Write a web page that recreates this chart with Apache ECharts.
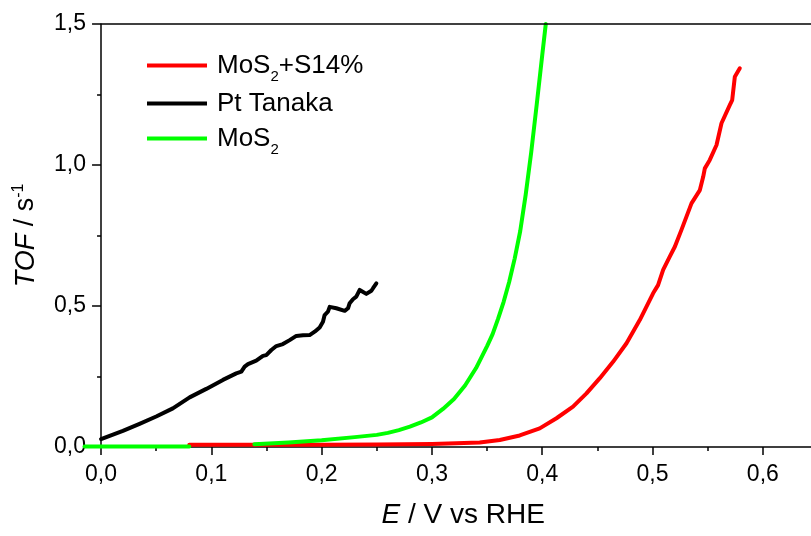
<!DOCTYPE html>
<html>
<head>
<meta charset="utf-8">
<script src="https://cdn.jsdelivr.net/npm/echarts@6/dist/echarts.min.js"></script>
<style>
  html, body { margin: 0; padding: 0; background: #fff; }
  #chart { width: 811px; height: 536px; }
</style>
</head>
<body>
<div id="chart"></div>
<script>
const FONT = '"Liberation Sans", Arial, Helvetica, sans-serif';

// Series names, in legend order
const seriesNames = ['MoS2+S14%', 'Pt Tanaka', 'MoS2'];
const seriesColors = ['#ff0000', '#000000', '#00ff00'];

// MoS2+S14% : potential (V vs RHE) and TOF (s^-1)
const redE = [0.080, 0.140, 0.200, 0.250, 0.300, 0.3220, 0.3433, 0.3615, 0.3796, 0.3977, 0.4129,
              0.4279, 0.4401, 0.4522, 0.4642, 0.4764, 0.4884, 0.5005, 0.5050, 0.5096, 0.5156,
              0.5202, 0.5262, 0.5353, 0.5429, 0.5459, 0.5474, 0.5519, 0.5580, 0.5625, 0.5701,
              0.5722, 0.5746, 0.5791];
const redTOF = [0.008, 0.008, 0.008, 0.009, 0.011, 0.013, 0.016, 0.025, 0.041, 0.066, 0.102,
                0.143, 0.190, 0.244, 0.302, 0.368, 0.450, 0.545, 0.574, 0.628, 0.675,
                0.710, 0.770, 0.864, 0.911, 0.958, 0.988, 1.018, 1.071, 1.148, 1.213,
                1.230, 1.313, 1.343];

// Pt Tanaka
const blackE = [0.000, 0.0198, 0.0349, 0.050, 0.0651, 0.0803, 0.0954, 0.1105, 0.1226, 0.1272,
                0.1302, 0.1332, 0.1407, 0.1468, 0.1498, 0.1544, 0.1589, 0.1649, 0.1710, 0.1770,
                0.1831, 0.1891, 0.1937, 0.1982, 0.2012, 0.2027, 0.2057, 0.2073, 0.2133, 0.2209,
                0.2239, 0.2254, 0.2284, 0.2314, 0.2345, 0.2405, 0.2451, 0.2466, 0.2496];
const blackTOF = [0.028, 0.057, 0.082, 0.108, 0.137, 0.176, 0.206, 0.238, 0.261, 0.267,
                  0.285, 0.294, 0.306, 0.323, 0.326, 0.344, 0.358, 0.365, 0.379, 0.394,
                  0.396, 0.397, 0.409, 0.424, 0.444, 0.468, 0.480, 0.497, 0.492, 0.483,
                  0.492, 0.510, 0.524, 0.533, 0.557, 0.543, 0.554, 0.563, 0.580];

// MoS2 (no data recorded between 0.08 and 0.139 V)
const greenE = [-0.015, 0.000, 0.040, 0.080, 0.110, 0.139, 0.170, 0.200, 0.230, 0.250,
                0.260, 0.270, 0.280, 0.290, 0.300, 0.310, 0.320, 0.330, 0.340, 0.350,
                0.355, 0.360, 0.365, 0.370, 0.375, 0.380, 0.385, 0.390, 0.395, 0.400, 0.4032];
const greenTOF = [0.002, 0.002, 0.002, 0.002, '-', 0.010, 0.016, 0.024, 0.035, 0.043,
                  0.050, 0.060, 0.072, 0.087, 0.105, 0.135, 0.170, 0.218, 0.280, 0.358,
                  0.400, 0.455, 0.515, 0.585, 0.668, 0.765, 0.895, 1.045, 1.215, 1.390, 1.500];

// Axis ticks
const xMajorTicks = [0, 0.1, 0.2, 0.3, 0.4, 0.5, 0.6];
const xMinorTicks = [0.05, 0.15, 0.25, 0.35, 0.45, 0.55];
const xMin = -0.015, xMax = 0.65;
const yMin = 0, yMax = 1.5, yStep = 0.5;

const pairs = (xs, ys) => xs.map((x, i) => [x, ys[i]]);
const fmt = v => Number(v).toFixed(1).replace('.', ',');

const seriesData = [pairs(redE, redTOF), pairs(blackE, blackTOF), pairs(greenE, greenTOF)];

const legendTops = [51.5, 89.5, 124.5];

// plot area geometry
const gridLeft = 84.5, gridRight = -7, W = 811;
const pxPerV = (W - gridRight - gridLeft) / (xMax - xMin);
// shift of the vertical axis from the plot's left edge to E = 0
const yAxisShift = (0 - xMin) * pxPerV;

const chart = echarts.init(document.getElementById('chart'), null, { renderer: 'canvas' });

const legendRich = {
  sub: { fontFamily: FONT, fontSize: 15, lineHeight: 15, color: '#000',
         verticalAlign: 'top', padding: [18, 0, 0, 0] }
};

const axisBlack = { color: '#000', width: 1.5 };

chart.setOption({
  animation: false,
  backgroundColor: '#fff',
  grid: { left: gridLeft, right: gridRight, top: 24, bottom: 89, show: false,
          outerBoundsMode: 'none', containLabel: false },
  legend: seriesNames.map((n, i) => ({
    data: [n],
    left: 147,
    top: legendTops[i],
    orient: 'vertical',
    padding: 0,
    itemGap: 0,
    itemWidth: 60,
    itemHeight: 4,
    icon: 'rect',
    selectedMode: false,
    formatter: name => name.replace('MoS2', 'MoS{sub|2}'),
    textStyle: {
      fontFamily: FONT, fontSize: 26, lineHeight: 28, color: '#000',
      padding: [0, 0, 0, 5],
      rich: legendRich
    }
  })),
  xAxis: [{
    type: 'value',
    min: xMin, max: xMax,
    position: 'bottom',
    name: '{i|E} / V vs RHE',
    nameLocation: 'middle',
    nameGap: 54,
    nameTextStyle: {
      fontFamily: FONT, fontSize: 28, color: '#000',
      padding: [0, 0, 0, 24],
      rich: {
        i: { fontFamily: FONT, fontSize: 28, fontStyle: 'italic', color: '#000' }
      }
    },
    axisLine: { show: true, onZero: false, lineStyle: axisBlack },
    axisTick: { show: true, inside: false, length: 8, customValues: xMajorTicks, lineStyle: axisBlack },
    axisLabel: { customValues: xMajorTicks, formatter: fmt, margin: 16,
                 fontFamily: FONT, fontSize: 23, color: '#000' },
    splitLine: { show: false }
  }, {
    type: 'value',
    min: xMin, max: xMax,
    position: 'bottom',
    axisLine: { show: false, onZero: false },
    axisTick: { show: true, inside: false, length: 4, customValues: xMinorTicks, lineStyle: axisBlack },
    axisLabel: { show: false },
    splitLine: { show: false }
  }],
  yAxis: {
    type: 'value',
    min: yMin, max: yMax, interval: yStep,
    position: 'left',
    offset: -yAxisShift,
    name: '{i|TOF} / s{sup|-1}',
    nameLocation: 'middle',
    nameGap: 60,
    nameRotate: 90,
    nameTextStyle: {
      fontFamily: FONT, fontSize: 27, color: '#000', lineHeight: 30,
      rich: {
        i: { fontFamily: FONT, fontSize: 27, fontStyle: 'italic', color: '#000', lineHeight: 30 },
        sup: { fontFamily: FONT, fontSize: 16, color: '#000', lineHeight: 16, verticalAlign: 'top' }
      }
    },
    axisLine: { show: true, onZero: false, lineStyle: axisBlack },
    axisTick: { show: true, inside: false, length: 9, lineStyle: axisBlack },
    minorTick: { show: true, splitNumber: 2, length: 4, lineStyle: axisBlack },
    axisLabel: { formatter: fmt, margin: 15, fontFamily: FONT, fontSize: 23, color: '#000' },
    splitLine: { show: false },
    minorSplitLine: { show: false }
  },
  series: seriesNames.map((n, i) => ({
    name: n,
    type: 'line',
    xAxisIndex: 0,
    data: seriesData[i],
    symbol: 'none',
    showSymbol: false,
    connectNulls: false,
    clip: false,
    smooth: false,
    color: seriesColors[i],
    lineStyle: { color: seriesColors[i], width: 4, join: 'round', cap: 'round' },
    itemStyle: { color: seriesColors[i] },
    z: 2 + i,
    // upper frame line of the plot area
    markLine: i === 0 ? {
      silent: true,
      animation: false,
      symbol: ['none', 'none'],
      label: { show: false },
      lineStyle: { color: '#000', width: 1.5, type: 'solid' },
      data: [[{ coord: [0, yMax] }, { coord: [xMax, yMax] }]]
    } : undefined
  }))
});
</script>
</body>
</html>
